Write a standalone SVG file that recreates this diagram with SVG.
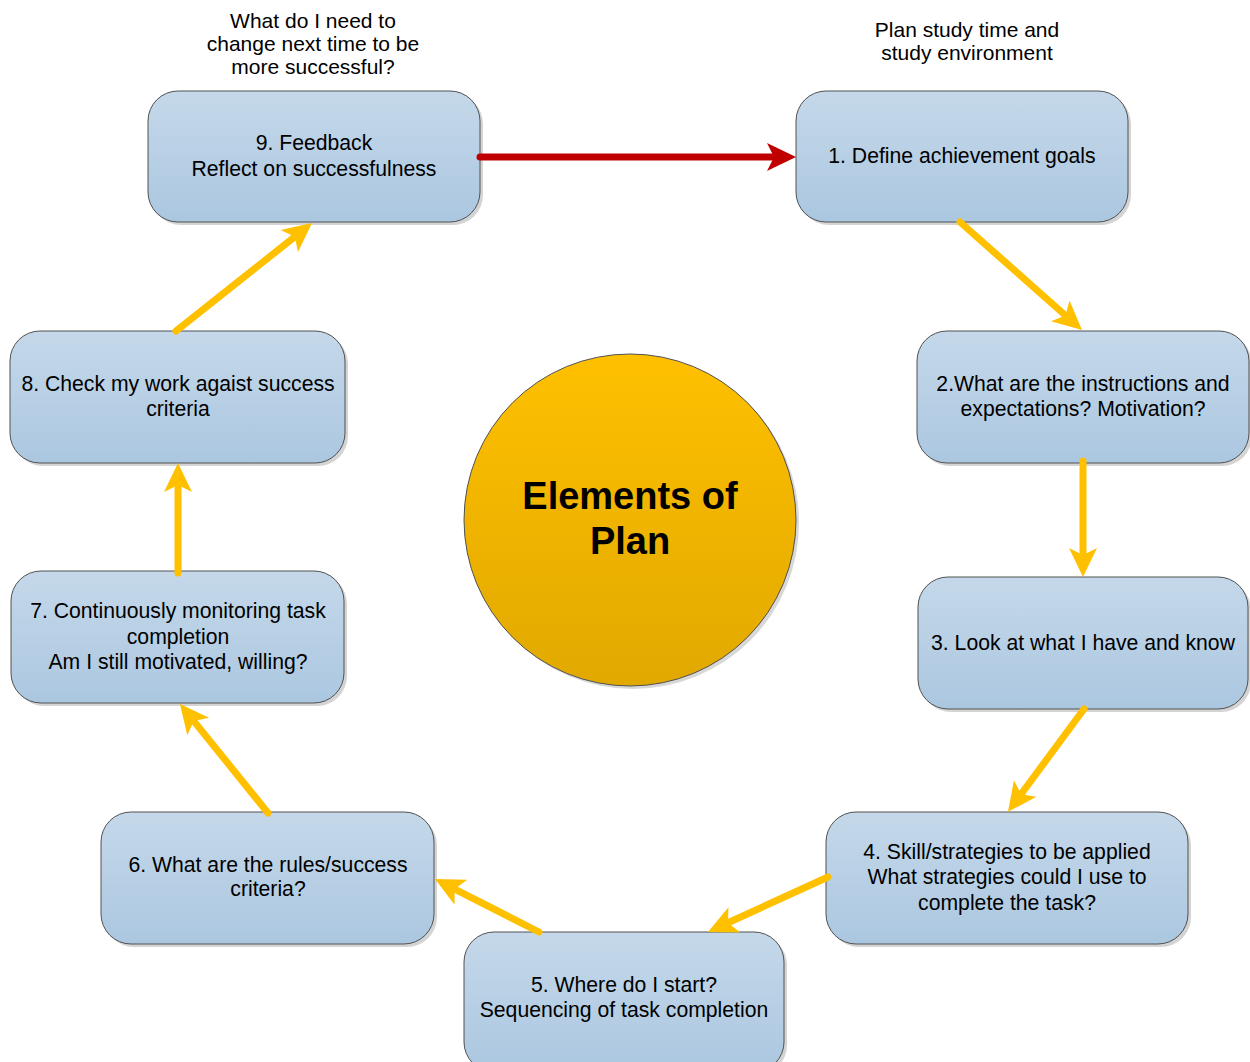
<svg xmlns="http://www.w3.org/2000/svg" width="1250" height="1062" viewBox="0 0 1250 1062">
<defs>
<linearGradient id="boxGrad" x1="0" y1="0" x2="0" y2="1">
<stop offset="0" stop-color="#C5D8EA"/>
<stop offset="1" stop-color="#ABC7E0"/>
</linearGradient>
<linearGradient id="circGrad" x1="0" y1="0" x2="0" y2="1">
<stop offset="0" stop-color="#FFC000"/>
<stop offset="1" stop-color="#E1A900"/>
</linearGradient>
<marker id="arrY" markerUnits="userSpaceOnUse" viewBox="-15 -15 32 30" refX="0" refY="0" markerWidth="32" markerHeight="30" orient="auto" overflow="visible">
<path d="M16,0 L-13,-14 L-6,0 L-13,14 Z" fill="#FFC000"/>
</marker>
<marker id="arrR" markerUnits="userSpaceOnUse" viewBox="-15 -15 32 30" refX="0" refY="0" markerWidth="32" markerHeight="30" orient="auto" overflow="visible">
<path d="M16,0 L-13,-14 L-6,0 L-13,14 Z" fill="#C00000"/>
</marker>
</defs>
<style>
.box{fill:url(#boxGrad);stroke:#505050;stroke-width:1}
.shadow{fill:#D4D4D4}
.t{font-family:"Liberation Sans",Arial,sans-serif;font-size:21.2px;fill:#000;text-anchor:middle}
.lbl{font-family:"Liberation Sans",Arial,sans-serif;font-size:21px;fill:#000;text-anchor:middle}
.big{font-family:"Liberation Sans",Arial,sans-serif;font-size:38px;font-weight:bold;fill:#000;text-anchor:middle}
.cy{stroke:#FFC000;stroke-width:7;stroke-linecap:round;fill:none;marker-end:url(#arrY)}
.cr{stroke:#C00000;stroke-width:7;stroke-linecap:round;fill:none;marker-end:url(#arrR)}
</style>
<rect width="1250" height="1062" fill="#FFFFFF"/>

<g id="labels">
<text class="lbl" x="313" y="28">What do I need to</text>
<text class="lbl" x="313" y="51">change next time to be</text>
<text class="lbl" x="313" y="74">more successful?</text>
<text class="lbl" x="967" y="37">Plan study time and</text>
<text class="lbl" x="967" y="60">study environment</text>
</g>

<g id="center">
<circle cx="633" cy="523" r="166" fill="#D8D8D8"/>
<circle cx="630" cy="520" r="166" fill="url(#circGrad)" stroke="#505050" stroke-width="1"/>
<text class="big" x="630" y="509">Elements of</text>
<text class="big" x="630" y="554">Plan</text>
</g>

<g id="node9">
<rect class="shadow" x="151" y="94" width="332" height="131" rx="30"/>
<rect class="box" x="148" y="91" width="332" height="131" rx="30"/>
<text class="t" x="314" y="150">9. Feedback</text>
<text class="t" x="314" y="176">Reflect on successfulness</text>
</g>
<g id="node1">
<rect class="shadow" x="799" y="94" width="332" height="131" rx="30"/>
<rect class="box" x="796" y="91" width="332" height="131" rx="30"/>
<text class="t" x="962" y="163">1. Define achievement goals</text>
</g>
<g id="node2">
<rect class="shadow" x="920" y="334" width="332" height="132" rx="30"/>
<rect class="box" x="917" y="331" width="332" height="132" rx="30"/>
<text class="t" x="1083" y="391">2.What are the instructions and</text>
<text class="t" x="1083" y="416">expectations? Motivation?</text>
</g>
<g id="node3">
<rect class="shadow" x="921" y="580" width="330" height="132" rx="30"/>
<rect class="box" x="918" y="577" width="330" height="132" rx="30"/>
<text class="t" x="1083" y="650">3. Look at what I have and know</text>
</g>
<g id="node4">
<rect class="shadow" x="829" y="815" width="362" height="132" rx="30"/>
<rect class="box" x="826" y="812" width="362" height="132" rx="30"/>
<text class="t" x="1007" y="859">4. Skill/strategies to be applied</text>
<text class="t" x="1007" y="884">What strategies could I use to</text>
<text class="t" x="1007" y="910">complete the task?</text>
</g>
<g id="node5">
<rect class="shadow" x="467" y="935" width="320" height="140" rx="30"/>
<rect class="box" x="464" y="932" width="320" height="140" rx="30"/>
<text class="t" x="624" y="992">5. Where do I start?</text>
<text class="t" x="624" y="1017">Sequencing of task completion</text>
</g>
<g id="node6">
<rect class="shadow" x="104" y="815" width="333" height="132" rx="30"/>
<rect class="box" x="101" y="812" width="333" height="132" rx="30"/>
<text class="t" x="268" y="872">6. What are the rules/success</text>
<text class="t" x="268" y="896">criteria?</text>
</g>
<g id="node7">
<rect class="shadow" x="14" y="574" width="333" height="132" rx="30"/>
<rect class="box" x="11" y="571" width="333" height="132" rx="30"/>
<text class="t" x="178" y="618">7. Continuously monitoring task</text>
<text class="t" x="178" y="644">completion</text>
<text class="t" x="178" y="669">Am I still motivated, willing?</text>
</g>
<g id="node8">
<rect class="shadow" x="13" y="334" width="335" height="132" rx="30"/>
<rect class="box" x="10" y="331" width="335" height="132" rx="30"/>
<text class="t" x="178" y="391">8. Check my work agaist success</text>
<text class="t" x="178" y="416">criteria</text>
</g>

<g id="connectors">
<line class="cr" x1="480" y1="157" x2="780" y2="157"/>
<line class="cy" x1="960" y1="222" x2="1070" y2="319.5"/>
<line class="cy" x1="1083" y1="461" x2="1083" y2="561"/>
<line class="cy" x1="1084" y1="709" x2="1017.5" y2="799"/>
<line class="cy" x1="828" y1="877" x2="722.5" y2="925.3"/>
<line class="cy" x1="539" y1="932" x2="449.3" y2="886.3"/>
<line class="cy" x1="268" y1="813" x2="190" y2="716.4"/>
<line class="cy" x1="178" y1="573" x2="178" y2="479"/>
<line class="cy" x1="176" y1="331" x2="299.5" y2="233"/>
</g>
</svg>
